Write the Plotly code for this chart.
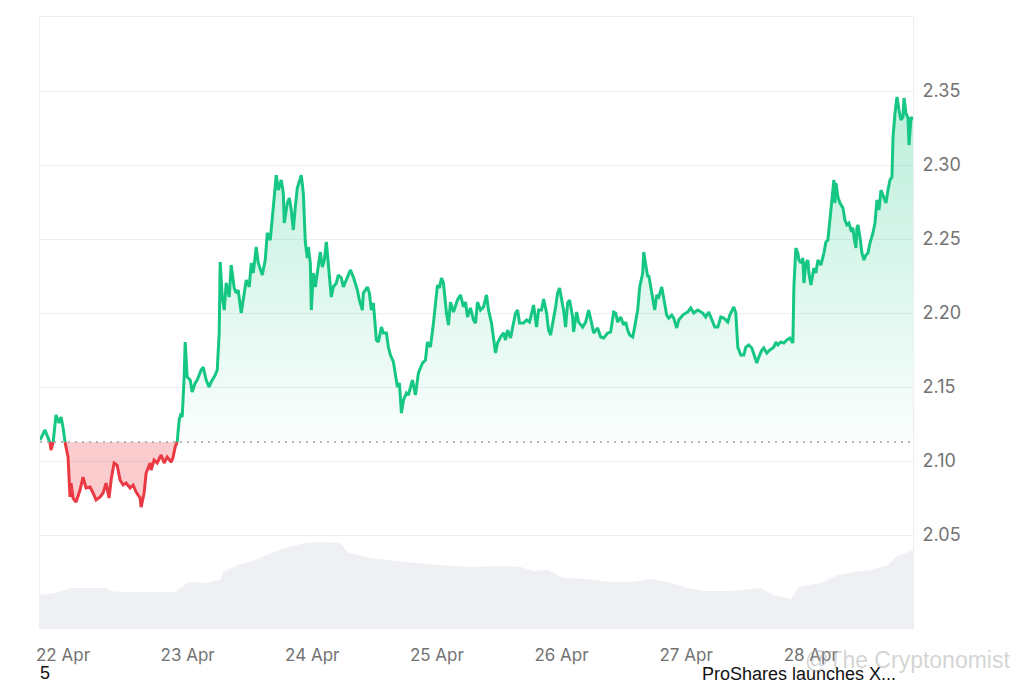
import numpy as np
import pandas as pd
import plotly.graph_objects as go

# ---------------- data ----------------
start_time = "2025-04-21 19:34"
baseline = 2.1128

hours = [0.00, 0.96, 1.93, 2.12, 2.51, 3.08, 3.66, 4.05, 4.43, 4.82, 5.40, 5.78, 5.98, 6.36, 6.94, 7.71, 8.29, 8.87, 9.64, 10.22,
         10.80, 11.57, 12.15, 12.72, 13.30, 13.69, 14.27, 14.85, 15.42, 16.00, 16.58, 17.35, 17.93, 18.51, 19.28, 19.47, 20.05, 20.44, 21.21, 21.40,
         21.98, 22.56, 23.33, 23.91, 24.49, 25.26, 25.64, 26.03, 26.41, 26.80, 27.18, 27.38, 27.76, 27.96, 28.34, 28.92, 29.31, 29.88, 30.27, 31.04,
         31.43, 32.00, 32.58, 32.97, 33.74, 34.13, 34.51, 34.70, 35.09, 35.48, 35.86, 36.44, 36.82, 37.40, 37.79, 38.17, 38.75, 39.33, 39.72, 40.30,
         40.68, 41.07, 41.64, 42.03, 42.80, 43.38, 43.77, 44.34, 44.92, 45.50, 45.89, 46.46, 46.85, 47.04, 47.62, 48.01, 48.39, 48.78, 49.16, 49.55,
         50.32, 50.71, 51.09, 51.48, 51.67, 52.06, 52.25, 52.63, 53.02, 53.60, 53.98, 54.37, 54.76, 55.14, 55.53, 56.10, 56.49, 57.07, 57.45, 58.03,
         58.42, 59.19, 59.77, 60.35, 60.73, 61.12, 61.50, 62.08, 62.27, 63.05, 63.43, 63.82, 64.20, 64.78, 65.17, 65.74, 66.13, 66.71, 67.09, 67.48,
         68.06, 68.44, 68.83, 69.22, 69.60, 69.99, 70.56, 70.95, 71.72, 72.30, 72.88, 73.65, 74.23, 74.61, 75.19, 75.77, 76.16, 76.54, 76.93, 77.31,
         77.70, 78.28, 78.66, 79.05, 79.63, 80.01, 80.40, 80.98, 81.55, 81.94, 82.33, 82.90, 83.48, 83.87, 84.25, 84.83, 85.41, 85.99, 86.37, 86.95,
         87.34, 87.72, 88.11, 88.69, 89.27, 89.65, 90.04, 90.62, 91.19, 91.58, 91.97, 92.35, 93.12, 93.70, 94.28, 94.86, 95.05, 95.63, 96.01, 96.59,
         96.98, 97.56, 97.94, 98.33, 98.91, 99.29, 99.68, 100.06, 100.64, 100.83, 101.22, 101.61, 101.99, 102.57, 102.76, 103.34, 103.73, 104.50, 105.08, 105.65,
         106.23, 106.62, 107.39, 107.97, 108.55, 109.32, 109.90, 110.47, 110.86, 111.25, 111.82, 112.40, 112.79, 113.17, 113.56, 114.14, 114.52, 115.10, 115.49, 116.07,
         116.26, 116.64, 117.03, 117.22, 117.61, 117.99, 118.38, 118.76, 119.15, 119.73, 120.11, 120.69, 121.08, 121.66, 122.04, 122.62, 123.01, 123.78, 124.36, 124.74,
         125.32, 125.90, 126.67, 127.63, 128.21, 128.79, 129.56, 129.95, 130.53, 131.10, 131.68, 132.45, 132.84, 133.61, 134.00, 134.38, 134.96, 135.54, 135.92, 136.50,
         137.08, 137.47, 138.04, 138.43, 139.01, 139.39, 139.97, 140.55, 141.32, 141.71, 142.09, 142.67, 143.25, 143.83, 144.41, 144.99, 145.18, 145.56, 145.95, 146.14,
         146.53, 146.91, 147.11, 147.49, 147.88, 148.07, 148.46, 149.03, 149.42, 149.81, 150.38, 150.96, 151.35, 151.73, 152.12, 152.50, 152.89, 153.08, 153.28, 153.66,
         154.05, 154.63, 155.01, 155.40, 155.78, 156.17, 156.55, 156.75, 157.13, 157.32, 157.52, 157.90, 158.29, 158.67, 159.06, 159.45, 159.83, 160.41, 160.80, 161.18,
         161.57, 161.95, 162.34, 162.92, 163.30, 163.69, 164.07, 164.27, 164.65, 165.04, 165.42, 165.81, 166.19, 166.39, 166.77, 167.16, 167.35, 167.74, 168.12]

price = [2.1142, 2.1210, 2.1122, 2.1074, 2.1122, 2.1311, 2.1257, 2.1297, 2.1230, 2.1128, 2.1027, 2.0757, 2.0851, 2.0750, 2.0723, 2.0804, 2.0892, 2.0818, 2.0824, 2.0784,
         2.0737, 2.0757, 2.0784, 2.0851, 2.0750, 2.0872, 2.0987, 2.0973, 2.0872, 2.0838, 2.0851, 2.0818, 2.0838, 2.0791, 2.0750, 2.0689, 2.0784, 2.0919, 2.0987, 2.0939,
         2.1007, 2.0987, 2.1041, 2.0987, 2.1027, 2.0993, 2.1027, 2.1095, 2.1128, 2.1277, 2.1324, 2.1297, 2.1568, 2.1804, 2.1568, 2.1547, 2.1466, 2.1527, 2.1547, 2.1615,
         2.1635, 2.1547, 2.1500, 2.1534, 2.1581, 2.1615, 2.1865, 2.2345, 2.2108, 2.2020, 2.2203, 2.2108, 2.2324, 2.2169, 2.2135, 2.2155, 2.2000, 2.2155, 2.2223, 2.2176,
         2.2338, 2.2270, 2.2446, 2.2338, 2.2257, 2.2358, 2.2541, 2.2493, 2.2696, 2.2932, 2.2831, 2.2899, 2.2811, 2.2608, 2.2743, 2.2777, 2.2696, 2.2561, 2.2716, 2.2845,
         2.2932, 2.2811, 2.2480, 2.2372, 2.2446, 2.2338, 2.2020, 2.2270, 2.2176, 2.2338, 2.2412, 2.2311, 2.2358, 2.2480, 2.2311, 2.2108, 2.2176, 2.2203, 2.2257, 2.2237,
         2.2176, 2.2243, 2.2291, 2.2243, 2.2203, 2.2155, 2.2088, 2.2020, 2.2135, 2.2176, 2.2135, 2.2020, 2.2068, 2.1818, 2.1804, 2.1905, 2.1865, 2.1865, 2.1770, 2.1716,
         2.1669, 2.1595, 2.1500, 2.1527, 2.1324, 2.1412, 2.1460, 2.1446, 2.1547, 2.1446, 2.1595, 2.1662, 2.1682, 2.1804, 2.1770, 2.1932, 2.2088, 2.2189, 2.2169, 2.2237,
         2.2203, 2.2000, 2.1919, 2.2074, 2.2007, 2.2041, 2.2088, 2.2122, 2.2041, 2.2074, 2.1973, 2.2034, 2.1953, 2.1932, 2.2074, 2.2020, 2.2041, 2.2122, 2.2020, 2.1932,
         2.1818, 2.1730, 2.1797, 2.1838, 2.1865, 2.1818, 2.1885, 2.1831, 2.1932, 2.2000, 2.2020, 2.1932, 2.1932, 2.1953, 2.1939, 2.2041, 2.2054, 2.1905, 2.2020, 2.2020,
         2.2095, 2.2000, 2.1885, 2.1851, 2.1953, 2.2041, 2.2135, 2.2169, 2.2054, 2.2020, 2.1905, 2.2068, 2.2088, 2.1973, 2.1872, 2.2007, 2.1939, 2.1905, 2.1939, 2.2020,
         2.1932, 2.1865, 2.1899, 2.1838, 2.1831, 2.1865, 2.1872, 2.2007, 2.2000, 2.1939, 2.1973, 2.1919, 2.1939, 2.1885, 2.1851, 2.1838, 2.1905, 2.2020, 2.2176, 2.2270,
         2.2412, 2.2311, 2.2243, 2.2257, 2.2176, 2.2074, 2.2020, 2.2122, 2.2108, 2.2176, 2.2088, 2.1986, 2.1966, 2.1986, 2.1966, 2.1899, 2.1953, 2.1986, 2.2000, 2.2007,
         2.2034, 2.2000, 2.2020, 2.2000, 2.1973, 2.2007, 2.1939, 2.1905, 2.1905, 2.1973, 2.1966, 2.1939, 2.1986, 2.2041, 2.2000, 2.1770, 2.1716, 2.1716, 2.1770, 2.1784,
         2.1764, 2.1716, 2.1662, 2.1703, 2.1750, 2.1764, 2.1730, 2.1750, 2.1770, 2.1804, 2.1784, 2.1804, 2.1797, 2.1818, 2.1831, 2.1797, 2.2176, 2.2439, 2.2405, 2.2358,
         2.2338, 2.2372, 2.2203, 2.2338, 2.2358, 2.2270, 2.2189, 2.2304, 2.2270, 2.2358, 2.2324, 2.2405, 2.2480, 2.2493, 2.2628, 2.2716, 2.2899, 2.2743, 2.2878, 2.2784,
         2.2743, 2.2709, 2.2628, 2.2595, 2.2608, 2.2561, 2.2574, 2.2514, 2.2439, 2.2574, 2.2595, 2.2514, 2.2405, 2.2358, 2.2392, 2.2405, 2.2473, 2.2541, 2.2608, 2.2764,
         2.2696, 2.2831, 2.2797, 2.2743, 2.2831, 2.2899, 2.2919, 2.3189, 2.3351, 2.3460, 2.3372, 2.3304, 2.3324, 2.3453, 2.3351, 2.3318, 2.3135, 2.3324, 2.3304]

vol_hours = [0.00, 2.89, 5.98, 9.25, 12.72, 13.50, 15.62, 18.89, 22.17, 26.03, 27.18, 28.53, 31.81, 34.70, 35.28, 38.17, 41.45, 44.54, 47.81, 51.09,
             54.18, 57.84, 59.38, 63.82, 70.37, 76.73, 83.10, 89.27, 92.54, 95.05, 97.75, 100.83, 105.46, 109.90, 113.75, 117.61, 121.46, 124.74, 127.83, 133.03,
             138.82, 141.32, 144.60, 146.14, 150.38, 153.66, 156.75, 160.02, 163.30, 164.84, 168.12]
volume = [37.5, 39.8, 45.4, 45.4, 45.4, 42.0, 40.9, 40.9, 40.9, 40.9, 45.4, 52.3, 51.1, 54.5, 63.6, 71.6, 77.3, 85.2, 92.0, 96.6,
          97.7, 96.6, 85.2, 79.5, 75.0, 71.6, 69.3, 70.4, 69.3, 64.8, 65.9, 56.8, 55.7, 52.3, 52.3, 55.7, 51.1, 45.4, 42.0, 42.0,
          45.4, 37.5, 32.9, 46.6, 51.1, 60.2, 63.6, 65.9, 71.6, 80.7, 88.6]

price_ticks = [2.05, 2.10, 2.15, 2.20, 2.25, 2.30, 2.35]
price_range = [1.9872, 2.40]
volume_range = [0, 694]

headline_number = "5"
headline_text = "ProShares launches X..."
watermark = "@The Cryptonomist"

GREEN = "#16c784"
RED = "#ea3943"

# ---------------- split price at baseline crossings ----------------
h2, p2 = [], []
for i in range(len(hours)):
    if i > 0:
        a = price[i - 1] - baseline
        b = price[i] - baseline
        if a * b < 0:
            f = a / (a - b)
            h2.append(hours[i - 1] + f * (hours[i] - hours[i - 1]))
            p2.append(baseline)
    h2.append(hours[i])
    p2.append(price[i])

t0 = pd.Timestamp(start_time)
t = t0 + pd.to_timedelta(h2, unit="h")
tv = t0 + pd.to_timedelta(vol_hours, unit="h")
p2 = np.array(p2)

up_line = np.where(p2 >= baseline - 1e-9, p2, np.nan)
down_line = np.where(p2 <= baseline + 1e-9, p2, np.nan)
up_fill = np.maximum(p2, baseline)
down_fill = np.minimum(p2, baseline)
base_arr = np.full(len(p2), baseline)

fig = go.Figure()

# volume
fig.add_trace(go.Scatter(x=tv, y=volume, yaxis="y2", mode="lines", line=dict(width=0, color="#eef0f3"),
                         fill="tozeroy", fillcolor="#eef0f3", hoverinfo="skip", showlegend=False))

# green fill
fig.add_trace(go.Scatter(x=t, y=base_arr, mode="lines", line=dict(width=0), hoverinfo="skip", showlegend=False))
fig.add_trace(go.Scatter(x=t, y=up_fill, mode="lines", line=dict(width=0), fill="tonexty",
                         fillgradient=dict(type="vertical",
                                           colorscale=[[0, "rgba(22,199,132,0.02)"], [1, "rgba(22,199,132,0.30)"]],
                                           start=baseline, stop=2.35),
                         hoverinfo="skip", showlegend=False))
# red fill
fig.add_trace(go.Scatter(x=t, y=base_arr, mode="lines", line=dict(width=0), hoverinfo="skip", showlegend=False))
fig.add_trace(go.Scatter(x=t, y=down_fill, mode="lines", line=dict(width=0), fill="tonexty",
                         fillcolor="rgba(234,57,67,0.26)", hoverinfo="skip", showlegend=False))

# lines
fig.add_trace(go.Scatter(x=t, y=up_line, mode="lines", line=dict(width=3, color=GREEN), connectgaps=False,
                         hoverinfo="skip", showlegend=False))
fig.add_trace(go.Scatter(x=t, y=down_line, mode="lines", line=dict(width=3, color=RED), connectgaps=False,
                         hoverinfo="skip", showlegend=False))

fig.add_shape(type="line", xref="paper", x0=0, x1=1, yref="y", y0=baseline, y1=baseline,
              line=dict(color="#9ea3a8", width=1.5, dash="2px,5px"))

# the page body has an 8px margin, so the figure is sized to fit inside the window
fig.update_layout(
    width=1016, height=675,
    margin=dict(l=32, r=111, t=9, b=55),
    paper_bgcolor="white", plot_bgcolor="white",
    font=dict(family="Inter, Liberation Sans, Arial", color="#707070"),
    xaxis=dict(type="date", range=[t[0], t[-1]], showgrid=False, tickformat="%d %b", dtick=86400000,
               tickfont=dict(size=17, color="#737373"), ticks="", ticklabelstandoff=12,
               showline=True, mirror=True, linecolor="#eceef1", linewidth=1, zeroline=False),
    yaxis=dict(side="right", range=price_range, tickvals=price_ticks, ticktext=[f"{v:.2f}" for v in price_ticks],
               gridcolor="#eceef1", gridwidth=1, zeroline=False, tickfont=dict(size=18, color="#737373"),
               ticks="", ticklabelstandoff=5, showline=True, mirror=True, linecolor="#eceef1"),
    yaxis2=dict(overlaying="y", range=volume_range, visible=False),
    showlegend=False,
)

fig.add_annotation(text=headline_number, xref="paper", yref="paper", x=0.006, y=-0.074, xanchor="center", yanchor="middle",
                   showarrow=False, font=dict(family="Liberation Sans, Arial", size=18, color="#111"))
fig.add_annotation(text=headline_text, xref="paper", yref="paper", x=0.756, y=-0.075, xanchor="left", yanchor="middle",
                   showarrow=False, font=dict(family="Liberation Sans, Arial", size=18, color="#111"))
fig.add_annotation(text=watermark, xref="paper", yref="paper", x=1.113, y=-0.052, xanchor="right", yanchor="middle",
                   showarrow=False, font=dict(family="Liberation Sans, Arial", size=23, color="rgba(175,175,175,0.55)"))

fig.write_html("out.html", config={"displayModeBar": False})
